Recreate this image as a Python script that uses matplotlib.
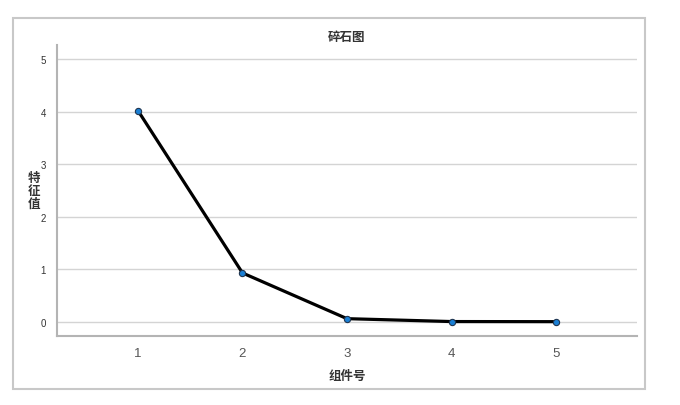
import matplotlib.pyplot as plt
from matplotlib.patches import Rectangle

plt.rcParams['font.family'] = ['Noto Sans CJK SC', 'DejaVu Sans']

# data
components = [1, 2, 3, 4, 5]
eigenvalues = [4.02, 0.93, 0.06, 0.005, 0.003]
y_ticks = [0, 1, 2, 3, 4, 5]

fig = plt.figure(figsize=(6.8, 4.06), dpi=100)

# outer gray frame
fig.patches.append(Rectangle((13 / 680, 1 - 390 / 406), 632 / 680, 371 / 406,
                             transform=fig.transFigure, fill=False,
                             edgecolor='#c8c8c8', linewidth=1.5))

ax = fig.add_axes([57 / 680, 1 - 337 / 406, 580 / 680, 291 / 406])

ax.plot(components, eigenvalues, color='black', linewidth=2.3, zorder=3,
        marker='o', markersize=4.5, markerfacecolor='#1a7fd4',
        markeredgecolor='#1f3550', markeredgewidth=0.8)

ax.set_xlim(0.225, 5.775)
ax.set_ylim(-0.27, 5.27)
ax.set_xticks(components)
ax.set_yticks(y_ticks)
ax.grid(axis='y', color='#d4d4d4', linewidth=1)
ax.set_axisbelow(True)

for s in ['top', 'right']:
    ax.spines[s].set_visible(False)
for s in ['left', 'bottom']:
    ax.spines[s].set_color('#b4b4b4')
    ax.spines[s].set_linewidth(1.5)

ax.tick_params(axis='x', length=0, labelsize=9.5, labelcolor='#555555', pad=8)
ax.tick_params(axis='y', length=0, labelsize=7, labelcolor='#333333', pad=8)
for lbl in ax.get_xticklabels() + ax.get_yticklabels():
    lbl.set_family('Liberation Sans')

ax.set_xlabel('组件号', fontsize=9, fontweight='bold', color='#333333', labelpad=7)
ax.set_ylabel('特\n征\n值', fontsize=9, fontweight='bold', color='#333333',
              rotation=0, va='center', linespacing=0.95)
ax.yaxis.set_label_coords(-0.039, 0.5)

fig.text(347 / 680, 1 - 37 / 406, '碎石图', ha='center', va='center',
         fontsize=9, fontweight='bold', color='#333333')

fig.savefig('out.png', dpi=100)
